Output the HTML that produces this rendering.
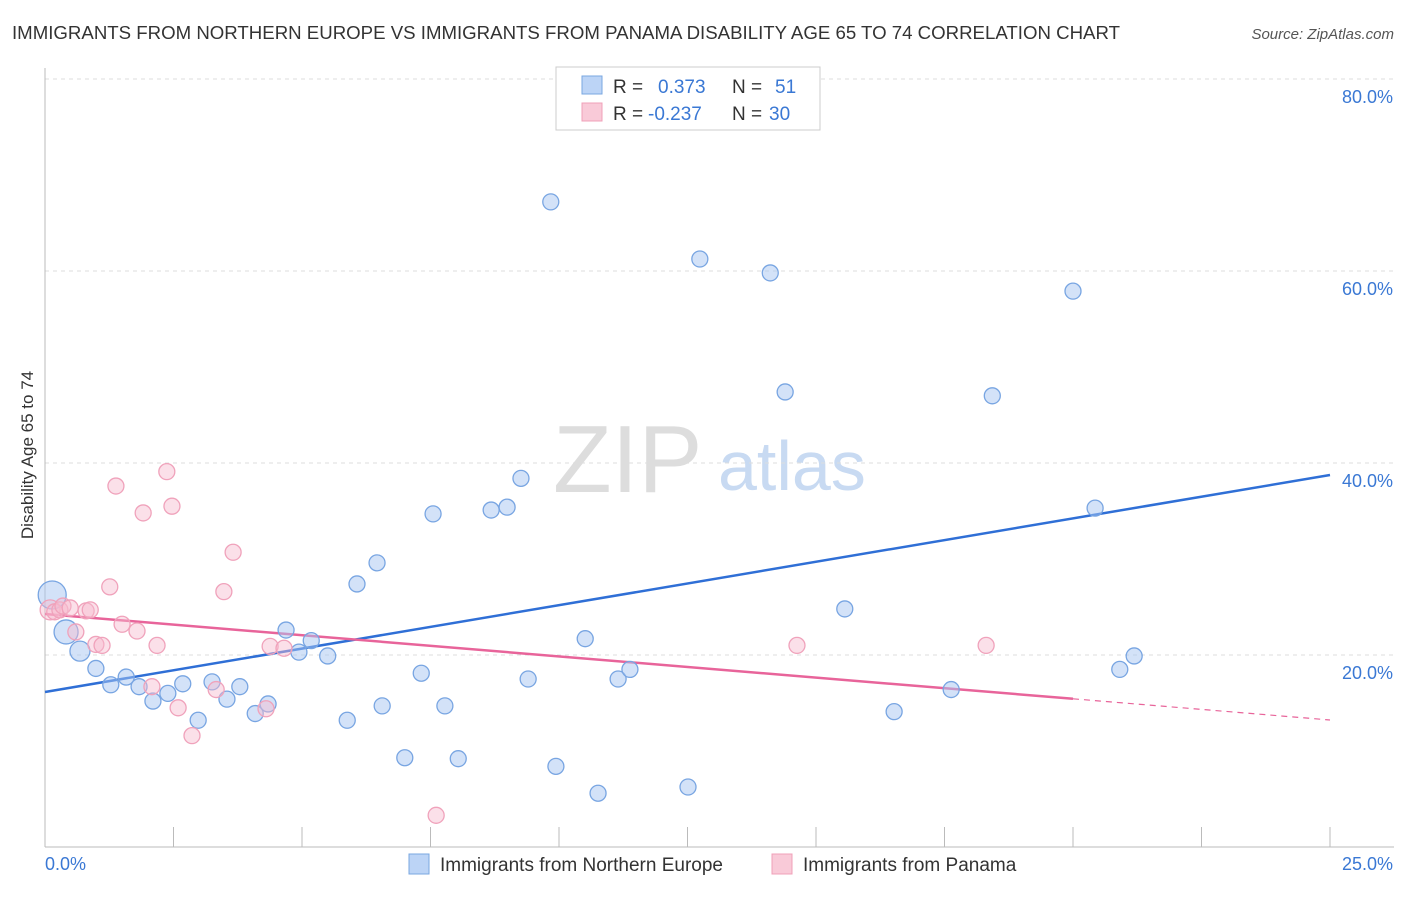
<!DOCTYPE html>
<html><head><meta charset="utf-8"><style>
body{margin:0;background:#fff;font-family:"Liberation Sans",sans-serif;}
svg text{font-family:"Liberation Sans",sans-serif;}
</style></head><body>
<svg id="chart" width="1406" height="892" viewBox="0 0 1406 892" xmlns="http://www.w3.org/2000/svg">
<text x="12" y="39" font-size="18.5" fill="#333" textLength="1108" lengthAdjust="spacingAndGlyphs">IMMIGRANTS FROM NORTHERN EUROPE VS IMMIGRANTS FROM PANAMA DISABILITY AGE 65 TO 74 CORRELATION CHART</text>
<text x="1394" y="39" font-size="15" fill="#555" font-style="italic" text-anchor="end">Source: ZipAtlas.com</text>
<g>
<text x="553" y="492" font-size="96" fill="#ddd" font-family="Liberation Serif, serif">ZIP</text>
<text x="718" y="490" font-size="70" fill="#c8daf2">atlas</text>
</g>
<g id="grid"></g>
<g id="axes"></g>
<g id="lines"></g>
<g id="pts"></g>
<text transform="translate(33,455) rotate(-90)" font-size="17" fill="#333" text-anchor="middle">Disability Age 65 to 74</text>
<g>
<rect x="556" y="67" width="264" height="63" fill="#fff" stroke="#ccc"/>
<rect x="582" y="76" width="20" height="18" fill="#bcd4f6" stroke="#7aa7e0"/>
<rect x="582" y="103" width="20" height="18" fill="#f9cad8" stroke="#f0a0b8"/>
<text x="613" y="93" font-size="19" fill="#333">R = </text><text x="658" y="93" font-size="19" fill="#3a78d4">0.373</text>
<text x="732" y="93" font-size="19" fill="#333">N = </text><text x="775" y="93" font-size="19" fill="#3a78d4">51</text>
<text x="613" y="120" font-size="19" fill="#333">R = </text><text x="648" y="120" font-size="19" fill="#3a78d4">-0.237</text>
<text x="732" y="120" font-size="19" fill="#333">N = </text><text x="769" y="120" font-size="19" fill="#3a78d4">30</text>
</g>
<g>
<rect x="409" y="854" width="20" height="20" fill="#bcd4f6" stroke="#7aa7e0"/>
<text x="440" y="871" font-size="19" fill="#333">Immigrants from Northern Europe</text>
<rect x="772" y="854" width="20" height="20" fill="#f9cad8" stroke="#f0a0b8"/>
<text x="803" y="871" font-size="19" fill="#333">Immigrants from Panama</text>
</g>
</svg>
<script>
const blueX=[0.14,0.41,0.68,0.99,1.28,1.58,1.83,2.10,2.39,2.68,2.98,3.25,3.54,3.79,4.09,4.34,4.69,4.94,5.18,5.50,5.88,6.07,6.46,6.56,7.00,7.32,7.55,7.78,8.04,8.68,8.99,9.26,9.40,9.84,9.94,10.51,10.76,11.15,11.38,12.51,12.74,14.11,14.40,15.56,16.52,17.63,18.43,20.0,20.43,20.91,21.19];
const blueY=[26.25,22.4,20.4,18.6,16.9,17.7,16.7,15.2,16.0,17.0,13.2,17.2,15.4,16.7,13.9,14.9,22.6,20.3,21.5,19.9,13.2,27.4,29.6,14.7,9.3,18.1,34.7,14.7,9.2,35.1,35.4,38.4,17.5,67.2,8.4,21.7,5.6,17.5,18.5,6.25,61.25,59.8,47.4,24.8,14.1,16.4,47.0,57.9,35.3,18.5,19.9];
const blueSize=[14,12,10];
const pinkX=[0.10,0.19,0.29,0.35,0.49,0.60,0.80,0.88,0.99,1.11,1.26,1.38,1.50,1.79,1.91,2.08,2.18,2.37,2.47,2.59,2.86,3.33,3.48,3.66,4.30,4.38,4.65,7.61,14.63,18.31];
const pinkY=[24.7,24.5,24.7,25.1,24.9,22.4,24.6,24.7,21.1,21.0,27.1,37.6,23.2,22.5,34.8,16.7,21.0,39.1,35.5,14.5,11.6,16.4,26.6,30.7,14.4,20.9,20.7,3.3,21.0,21.0];
const pinkSize=[10];
const blueTrend=[16.15,38.75];
const pinkTrend=[24.27,13.23];
const pinkSolidEnd=20;
const yTicks=[20,40,60,80];
const yTickLabels=["20.0%","40.0%","60.0%","80.0%"];
const xTickCount=10;
const xMax=25;
const NS="http://www.w3.org/2000/svg";
const sx=v=>45+v/xMax*1285;
const sy=v=>847-v*9.6;
function mk(tag,attrs,parent){const e=document.createElementNS(NS,tag);for(const k in attrs)e.setAttribute(k,attrs[k]);parent.appendChild(e);return e;}
const grid=document.getElementById('grid'),axes=document.getElementById('axes'),lines=document.getElementById('lines'),pts=document.getElementById('pts');
yTicks.forEach((t,i)=>{
 const l=mk('line',{x1:45,x2:1394,y1:sy(t),y2:sy(t),stroke:'#ddd','stroke-dasharray':'4,4'},grid);
 
 
 const tx=mk('text',{x:1393,y:sy(t)+24,'font-size':18,fill:'#3a78d4','text-anchor':'end'},axes);
 tx.textContent=yTickLabels[i];
 
 
});
const xa=mk('line',{x1:45,x2:1394,y1:847,y2:847,stroke:'#bbb'},axes);


const ya=mk('line',{x1:45,x2:45,y1:68,y2:847,stroke:'#bbb'},axes);


for(let i=1;i<=xTickCount;i++){const v=i*xMax/xTickCount;
 const t=mk('line',{x1:sx(v),x2:sx(v),y1:827,y2:847,stroke:'#bbb'},axes);
 
 }
const x0=mk('text',{x:45,y:870,'font-size':18,fill:'#3a78d4'},axes);x0.textContent='0.0%';


const x1=mk('text',{x:1393,y:870,'font-size':18,fill:'#3a78d4','text-anchor':'end'},axes);x1.textContent='25.0%';


blueX.forEach((x,i)=>{const c=mk('circle',{cx:sx(x),cy:sy(blueY[i]),r:blueSize[i]||8,fill:'rgba(168,198,242,0.5)',stroke:'#78a5e2','stroke-width':1.3},pts);
 
 });
pinkX.forEach((x,i)=>{const c=mk('circle',{cx:sx(x),cy:sy(pinkY[i]),r:pinkSize[i]||8,fill:'rgba(246,186,206,0.45)',stroke:'#f0a2bb','stroke-width':1.3},pts);
 
 });
const bl=mk('line',{x1:sx(0),y1:sy(blueTrend[0]),x2:sx(xMax),y2:sy(blueTrend[1]),stroke:'#2f6fd6','stroke-width':2.5},lines);


const pAt=v=>pinkTrend[0]+(pinkTrend[1]-pinkTrend[0])*v/xMax;
const pl=mk('line',{x1:sx(0),y1:sy(pAt(0)),x2:sx(pinkSolidEnd),y2:sy(pAt(pinkSolidEnd)),stroke:'#e8649a','stroke-width':2.5},lines);


const pd=mk('line',{x1:sx(pinkSolidEnd),y1:sy(pAt(pinkSolidEnd)),x2:sx(xMax),y2:sy(pAt(xMax)),stroke:'#e8649a','stroke-width':1.2,'stroke-dasharray':'6,5'},lines);


</script>
</body></html>
